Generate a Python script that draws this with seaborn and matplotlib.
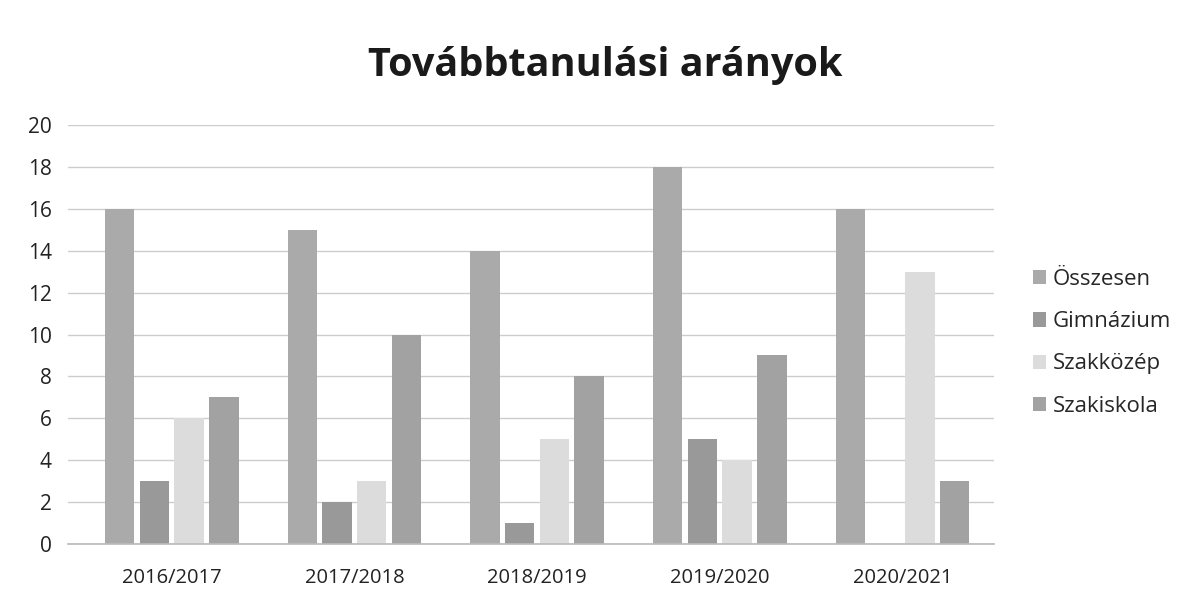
import matplotlib
matplotlib.use("Agg")
import matplotlib.pyplot as plt
import seaborn as sns
import pandas as pd

categories = ["2016/2017", "2017/2018", "2018/2019", "2019/2020", "2020/2021"]
series_names = ["Összesen", "Gimnázium", "Szakközép", "Szakiskola"]
osszesen = [16, 15, 14, 18, 16]
gimnazium = [3, 2, 1, 5, 0]
szakkozep = [6, 3, 5, 4, 13]
szakiskola = [7, 10, 8, 9, 3]
colors = ["#aaaaaa", "#999999", "#dcdcdc", "#a2a2a2"]

rows = []
for name, vals in zip(series_names, [osszesen, gimnazium, szakkozep, szakiskola]):
    for c, v in zip(categories, vals):
        rows.append({"Tanév": c, "Sorozat": name, "Érték": v})
df = pd.DataFrame(rows)

sns.set_theme(style="white")
plt.rcParams["font.family"] = ["Open Sans", "DejaVu Sans"]

fig = plt.figure(figsize=(11.98, 6.05), dpi=100)
ax = fig.add_axes([0.057, 0.101, 0.773, 0.692])
sns.barplot(data=df, x="Tanév", y="Érték", hue="Sorozat", palette=colors,
            width=0.76, gap=0.15, ax=ax, saturation=1, legend=True,
            linewidth=0, edgecolor="none")

ax.set_xlim(-0.566, 4.503)
ax.set_ylim(0, 20)
ax.set_yticks(range(0, 21, 2))
ax.yaxis.grid(True, color="#cccccc", linewidth=1)
ax.set_axisbelow(True)
ax.set_xlabel("")
ax.set_ylabel("")
for s in ["top", "right", "left"]:
    ax.spines[s].set_visible(False)
ax.spines["bottom"].set_color("#bbbbbb")
ax.tick_params(axis="both", colors="#222222", length=0)
ax.tick_params(axis="y", labelsize=15, pad=12)
ax.tick_params(axis="x", labelsize=14.5, pad=17)

fig.text(0.505, 0.892, "Továbbtanulási arányok", ha="center", va="center",
         fontsize=28.5, fontweight="bold", color="#1a1a1a")

handles, labels = ax.get_legend_handles_labels()
ax.legend(handles, labels, loc="center left", bbox_to_anchor=(1.02, 0.48),
          frameon=False, fontsize=16, handlelength=0.6, handleheight=0.6,
          labelspacing=0.95, handletextpad=0.3)

fig.savefig("out.png", dpi=100, facecolor="white")
